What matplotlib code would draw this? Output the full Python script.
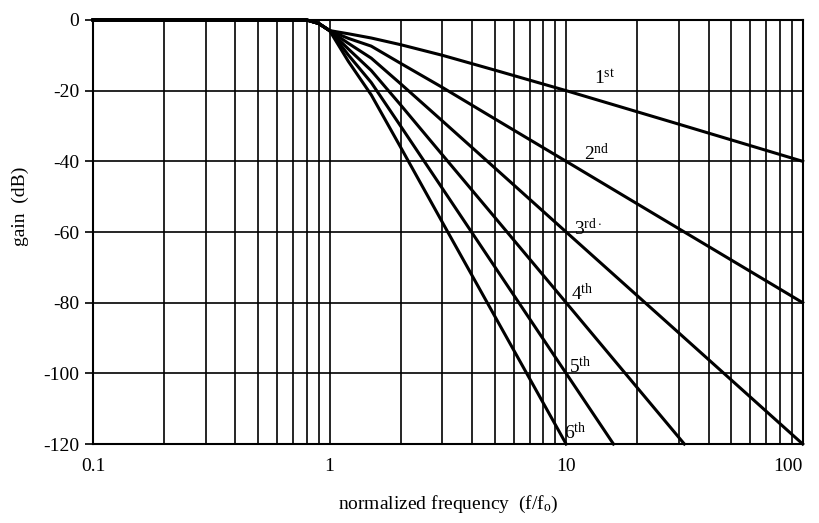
import numpy as np
import matplotlib.pyplot as plt
from matplotlib.ticker import LogLocator, NullFormatter, FixedLocator

plt.rcParams['font.family'] = ['Liberation Serif', 'DejaVu Serif']
plt.rcParams['mathtext.fontset'] = 'custom'
plt.rcParams['mathtext.rm'] = 'Liberation Serif'
plt.rcParams['mathtext.it'] = 'Liberation Serif:italic'
plt.rcParams['axes.unicode_minus'] = False

# normalized frequency points (f/fo) and gain readings (dB) for each filter order
freq = [0.1, 0.5, 0.8, 0.9, 1.0, 1.2, 1.5, 2.0, 3.0, 5.0, 10.0]
gain_1 = [0, 0, 0, -1.0, -3.0, -3.9, -5.1, -7.0, -10.0, -14.2, -20.0]
gain_2 = [0, 0, 0, -1.0, -3.0, -5.2, -7.4, -12.3, -19.1, -28.0, -40.0]
gain_3 = [0, 0, 0, -1.0, -3.0, -6.6, -10.8, -18.1, -28.6, -41.9, -60.0]
gain_4 = [0, 0, 0, -1.0, -3.0, -8.2, -14.3, -24.1, -38.2, -55.9, -80.0]
gain_5 = [0, 0, 0, -1.0, -3.0, -9.9, -17.7, -30.1, -47.7, -69.9, -100.0]
gain_6 = [0, 0, 0, -1.0, -3.0, -11.7, -21.2, -36.1, -57.3, -83.9, -120.0]

# tails beyond f = 10
tail_f = {1: [30.0, 100.0], 2: [30.0, 100.0], 3: [30.0, 100.0],
          4: [20.0, 31.6], 5: [15.85], 6: []}
tail_g = {1: [-29.5, -40.0], 2: [-59.1, -80.0], 3: [-88.6, -120.0],
          4: [-104.1, -120.0], 5: [-120.0], 6: []}

labels = [r'1$^{\mathrm{st}}$', r'2$^{\mathrm{nd}}$', r'3$^{\mathrm{rd}\cdot}$',
          r'4$^{\mathrm{th}}$', r'5$^{\mathrm{th}}$', r'6$^{\mathrm{th}}$']
label_f = [14.5, 13.4, 12.4, 11.7, 11.5, 10.9]
label_g = [-16.5, -37.8, -59.0, -77.3, -98.0, -116.6]

gains = [gain_1, gain_2, gain_3, gain_4, gain_5, gain_6]

fig = plt.figure(figsize=(8.19, 5.23), dpi=100)
ax = fig.add_axes([0.1136, 0.151, 0.8665, 0.8108])
ax.set_xscale('log')
ax.set_xlim(0.1, 100)
ax.set_ylim(-120, 0)

ax.xaxis.set_major_locator(FixedLocator([0.1, 1, 10, 100]))
ax.xaxis.set_minor_locator(LogLocator(base=10, subs=np.arange(2, 10)))
ax.xaxis.set_minor_formatter(NullFormatter())
ax.set_xticklabels(['0.1', '1', '10', '100'])
ax.set_yticks(np.arange(-120, 1, 20))

ax.grid(True, which='both', axis='x', color='black', lw=1.2)
ax.grid(True, which='major', axis='y', color='black', lw=1.2)

for i, g in enumerate(gains):
    n = i + 1
    x = freq + tail_f[n]
    y = g + tail_g[n]
    ax.plot(x, y, color='black', lw=2.2, clip_on=False, zorder=3)
    ax.text(label_f[i], label_g[i], labels[i], fontsize=14, ha='center',
            va='center', zorder=4)

for s in ax.spines.values():
    s.set_linewidth(1.5)

ax.tick_params(axis='y', direction='out', length=6, width=1.2, labelsize=14, pad=4)
ax.tick_params(axis='x', which='both', length=0, labelsize=14, pad=10)
ax.get_xticklabels()[-1].set_horizontalalignment('right')
ax.get_xticklabels()[-1].set_x(100)

ax.set_xlabel(r'normalized frequency  (f/f$_{\mathrm{o}}$)', fontsize=14, labelpad=14)
ax.set_ylabel('gain  (dB)', fontsize=14)
ax.yaxis.set_label_coords(-0.09, 0.56)

fig.savefig('out.png', dpi=100)
